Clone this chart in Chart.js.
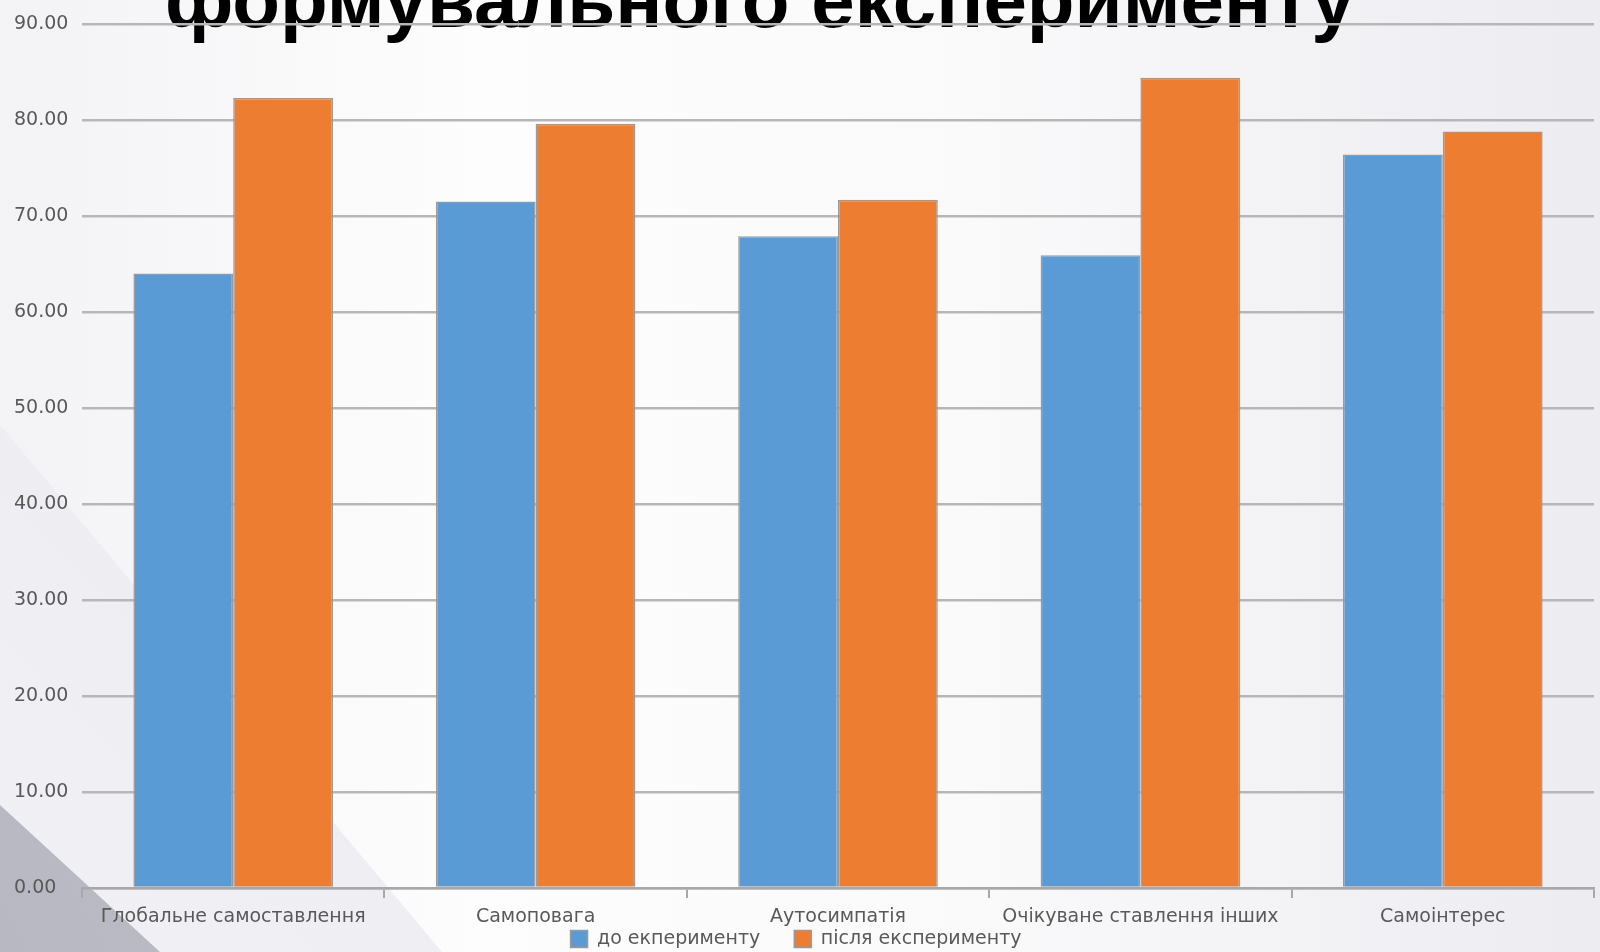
<!DOCTYPE html>
<html lang="uk">
<head>
<meta charset="utf-8">
<title>формувального експерименту</title>
<script src="https://cdn.jsdelivr.net/npm/chart.js@4.4.1/dist/chart.umd.min.js"></script>
<style>
  html, body { margin: 0; padding: 0; }
  body {
    width: 1600px; height: 952px; overflow: hidden; position: relative;
    background: linear-gradient(to right, #f3f3f6 0%, #fdfdfd 30%, #fafafb 60%, #ececf1 100%);
  }
  .shape { position: absolute; left: 0; top: 0; width: 1600px; height: 952px; }
  #band {
    background: linear-gradient(45deg, #f1f1f5 0%, #e6e6ee 60%, #dcdce6 100%);
    clip-path: polygon(0 425px, 442px 952px, 0 952px);
  }
  #corner {
    background: linear-gradient(60deg, #b8b8c2 0%, #cfcfd7 100%);
    clip-path: polygon(0 805px, 160px 952px, 0 952px);
  }
  #title {
    position: absolute; left: 165px; top: -40px; margin: 0;
    font-family: "Liberation Sans", Arial, sans-serif; font-weight: bold;
    font-size: 72px; line-height: 1; color: #000; white-space: nowrap;
  }
  #chart { position: absolute; left: 0; top: 0; }
</style>
</head>
<body>
<div class="shape" id="band"></div>
<div class="shape" id="corner"></div>
<h1 id="title"></h1>
<canvas id="chart" width="1600" height="952"></canvas>
<script>
// slide heading (only the lower part is visible in the picture)
const titleText = "формувального експерименту";

const categories = [
  "Глобальне самоставлення",
  "Самоповага",
  "Аутосимпатія",
  "Очікуване ставлення інших",
  "Самоінтерес",
];
const seriesNames = ["до екперименту", "після експерименту"];
const beforeValues = [64.0, 71.5, 67.9, 65.9, 76.4];
const afterValues = [82.3, 79.6, 71.7, 84.4, 78.8];

const yMin = 0;
const yMax = 90;
const yStep = 10;

// heading: fit the width seen in the picture, baseline near y=27
const title = document.getElementById("title");
title.textContent = titleText;
const fs = 72 * 1190 / title.getBoundingClientRect().width;
title.style.fontSize = fs + "px";
title.style.top = (27 - fs * 0.8465) + "px";

const labelFont = { family: "'DejaVu Sans', sans-serif", size: 19 };
const labelColor = "#595959";

// legend sits tight under the category labels, as on the slide:
// it only reserves a thin strip, then its box is grown upwards
const legendLift = {
  id: "legendLift",
  afterLayout(chart) {
    const lg = chart.legend;
    lg.top = lg.bottom - lg.options.labels.padding - 22.5;
    lg.height = lg.bottom - lg.top;
    lg.left -= 8;
    lg.right -= 8;
  },
};

const ctx = document.getElementById("chart").getContext("2d");
new Chart(ctx, {
  type: "bar",
  data: {
    labels: categories,
    datasets: [
      {
        label: seriesNames[0],
        data: beforeValues,
        backgroundColor: "#5b9bd5",
        borderColor: "#9a9a9a",
        borderWidth: 1.5,
      },
      {
        label: seriesNames[1],
        data: afterValues,
        backgroundColor: "#ed7d31",
        borderColor: "#9a9a9a",
        borderWidth: 1.5,
      },
    ],
  },
  plugins: [legendLift],
  options: {
    responsive: false,
    animation: false,
    categoryPercentage: 0.66,
    barPercentage: 1.0,
    layout: { padding: { left: 14, right: 6, top: 24, bottom: 0 } },
    plugins: {
      tooltip: { enabled: false },
      legend: {
        position: "bottom",
        maxHeight: 24,
        labels: {
          boxWidth: 17,
          boxHeight: 17,
          padding: 34,
          color: labelColor,
          font: labelFont,
        },
      },
    },
    scales: {
      x: {
        grid: {
          drawOnChartArea: false,
          drawTicks: true,
          tickLength: 10,
          color: "#a8a8a8",
          lineWidth: 2,
        },
        border: { display: true, color: "#a8a8a8", width: 2.5 },
        ticks: {
          color: labelColor,
          font: labelFont,
          padding: 7.2,
          maxRotation: 0,
          autoSkip: false,
        },
        afterFit: (scale) => { scale.height = 40; },
      },
      y: {
        min: yMin,
        max: yMax,
        grid: { drawTicks: false, color: "#b7b7b7", lineWidth: 2.5 },
        border: { display: false },
        ticks: {
          stepSize: yStep,
          crossAlign: "far",
          padding: 0,
          color: labelColor,
          font: labelFont,
          callback: (v) => Number(v).toFixed(2),
        },
        afterFit: (scale) => { scale.width = 68; },
      },
    },
  },
});
</script>
</body>
</html>
